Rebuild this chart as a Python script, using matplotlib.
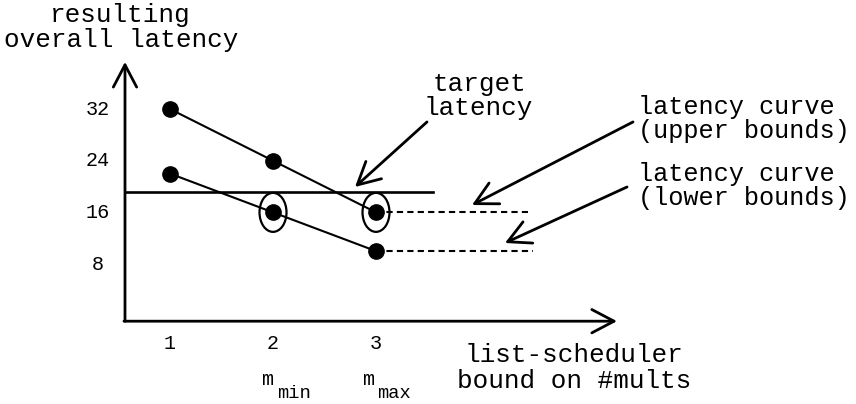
import matplotlib
matplotlib.use("Agg")
import matplotlib.pyplot as plt
from matplotlib.patches import Ellipse

plt.rcParams['font.family'] = ['Liberation Mono', 'DejaVu Sans Mono']

mults = [1, 2, 3]
upper_latency = [32, 24, 16]
lower_latency = [22, 16, 10]
target_latency = 19.2
y_ticks = [32, 24, 16, 8]
circled = [(2, 16), (3, 16)]   # points where target is met
upper_tail = 4.48              # dotted continuation of the curves
lower_tail = 4.52

fig = plt.figure(figsize=(8.56, 4.04), dpi=100)
ax = fig.add_axes([0, 0, 1, 1])
ax.set_xlim(-0.6505, 7.660)
ax.set_ylim(-13.67, 48.88)
ax.axis('off')

x0, y0 = 0.563, -0.85   # where the two axes meet
arrow = dict(arrowstyle='->,head_length=0.8,head_width=0.42', lw=2.0,
             color='black', shrinkA=0, shrinkB=0, mutation_scale=20)

# axes with open arrow heads
ax.annotate('', xy=(x0, 39.3), xytext=(x0, y0), arrowprops=arrow)
ax.annotate('', xy=(5.34, y0), xytext=(x0 - 0.01, y0), arrowprops=arrow)

# target latency line
ax.plot([x0, 3.553], [target_latency, target_latency], color='black', lw=1.9)

# latency curves
ax.plot(mults, upper_latency, '-o', color='black', lw=1.5, ms=11)
ax.plot(mults, lower_latency, '-o', color='black', lw=1.5, ms=11)
ax.plot([mults[-1], upper_tail], [upper_latency[-1]] * 2, color='black',
        lw=1.5, ls=(0, (3, 2)))
ax.plot([mults[-1], lower_tail], [lower_latency[-1]] * 2, color='black',
        lw=1.5, ls=(0, (3, 2)))

for cx, cy in circled:
    ax.add_patch(Ellipse((cx, cy), 0.262, 6.04, fill=False, lw=1.6,
                         color='black'))

# tick labels
for m in mults:
    ax.text(m, -4.25, str(m), ha='center', va='center', fontsize=14.5)
for t in y_ticks:
    ax.text(0.30, t, str(t), ha='center', va='center', fontsize=14.5)

ax.text(1.94, -10.73, 'm', ha='center', va='baseline', fontsize=14.5)
ax.text(2.04, -12.74, 'min', ha='left', va='baseline', fontsize=13.5)
ax.text(2.92, -10.73, 'm', ha='center', va='baseline', fontsize=14.5)
ax.text(3.01, -12.74, 'max', ha='left', va='baseline', fontsize=13.5)

# axis titles
fs = 18.7
ax.text(0.515, 45.48, 'resulting', ha='center', va='baseline', fontsize=fs)
ax.text(0.524, 41.61, 'overall latency', ha='center', va='baseline', fontsize=fs)
ax.text(4.92, -7.17, 'list-scheduler', ha='center', va='baseline', fontsize=fs)
ax.text(4.92, -11.20, 'bound on #mults', ha='center', va='baseline', fontsize=fs)

# callouts
ax.text(4.0, 34.79, 'target', ha='center', va='baseline', fontsize=fs)
ax.text(3.99, 31.08, 'latency', ha='center', va='baseline', fontsize=fs)
ax.annotate('', xy=(2.796, 19.93), xytext=(3.495, 30.0), arrowprops=arrow)

fs_side = 18.2
ax.text(5.544, 31.23, 'latency curve', ha='left', va='baseline', fontsize=fs_side)
ax.text(5.544, 27.52, '(upper bounds)', ha='left', va='baseline', fontsize=fs_side)
ax.annotate('', xy=(3.932, 17.14), xytext=(5.495, 30.0), arrowprops=arrow)

ax.text(5.544, 20.90, 'latency curve', ha='left', va='baseline', fontsize=fs_side)
ax.text(5.544, 17.18, '(lower bounds)', ha='left', va='baseline', fontsize=fs_side)
ax.annotate('', xy=(4.252, 11.26), xytext=(5.437, 19.93), arrowprops=arrow)

fig.savefig('out.png', dpi=100)
